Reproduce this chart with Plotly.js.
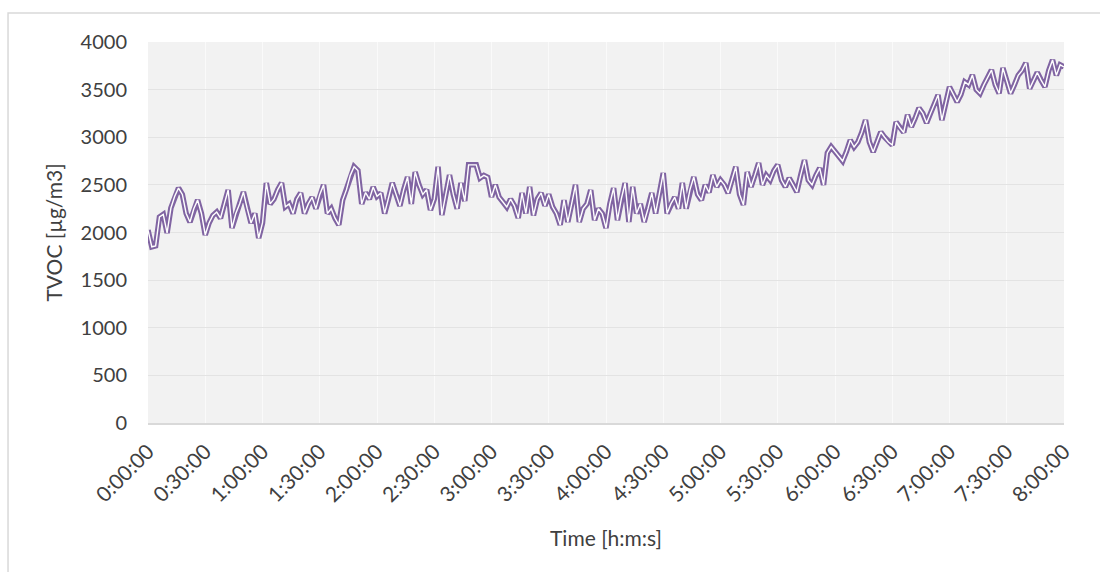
<!DOCTYPE html>
<html>
<head>
<meta charset="utf-8">
<script src="https://cdn.plot.ly/plotly-3.0.1.min.js"></script>
<style>
html,body{margin:0;padding:0;background:#fff;}
#chart{width:1100px;height:572px;}
</style>
</head>
<body>
<div id="chart"></div>
<script>
// Sampling interval of the readings (minutes)
const stepMinutes = 2;
// TVOC readings [µg/m3], one every 2 minutes from 0:00:00 to 8:00:00
const tvoc = [
  2026,1850,1860,2163,2190,1995,2257,2380,2467,2400,
  2200,2110,2250,2341,2200,1974,2100,2180,2215,2150,
  2300,2446,2047,2200,2300,2425,2250,2100,2200,1942,
  2100,2520,2300,2350,2450,2520,2270,2300,2200,2350,
  2415,2200,2300,2370,2250,2400,2500,2200,2250,2150,
  2080,2340,2450,2600,2690,2650,2300,2420,2350,2478,
  2380,2415,2200,2350,2520,2400,2280,2450,2583,2300,
  2635,2500,2400,2450,2236,2350,2690,2184,2400,2604,
  2400,2250,2520,2330,2710,2710,2710,2572,2600,2580,
  2373,2500,2370,2320,2268,2350,2280,2152,2415,2200,
  2478,2180,2350,2415,2280,2400,2270,2200,2080,2340,
  2110,2300,2500,2110,2250,2300,2446,2130,2250,2200,
  2047,2300,2467,2130,2350,2520,2110,2480,2200,2300,
  2110,2250,2415,2200,2400,2625,2200,2300,2370,2250,
  2520,2250,2450,2583,2400,2340,2500,2420,2604,2480,
  2550,2500,2415,2550,2690,2400,2290,2635,2480,2600,
  2730,2500,2600,2550,2650,2710,2550,2480,2570,2500,
  2425,2600,2760,2550,2500,2600,2676,2500,2835,2900,
  2850,2800,2750,2850,2971,2898,2950,3050,3181,2950,
  2845,2950,3055,3000,2950,2919,3160,3100,3050,3234,
  3110,3200,3307,3250,3150,3250,3350,3444,3180,3350,
  3528,3450,3370,3450,3580,3550,3654,3500,3460,3550,
  3630,3706,3550,3460,3727,3600,3460,3550,3650,3700,
  3780,3510,3600,3680,3600,3530,3700,3811,3650,3760,
  3738
];
// Time of each reading in minutes since start
const minutes = tvoc.map((_, i) => i * stepMinutes);
// X-axis tick positions (minutes) and labels
const tickMinutes = [0,30,60,90,120,150,180,210,240,270,300,330,360,390,420,450,480];
const tickLabels = ["0:00:00","0:30:00","1:00:00","1:30:00","2:00:00","2:30:00","3:00:00","3:30:00","4:00:00","4:30:00","5:00:00","5:30:00","6:00:00","6:30:00","7:00:00","7:30:00","8:00:00"];

const purple = '#8064a2';
const fontFam = 'Lato, "Open Sans", sans-serif';
const textColor = '#404040';

const traces = [
  {x: minutes, y: tvoc, type: 'scatter', mode: 'lines',
   line: {color: purple, width: 5.5}, hoverinfo: 'skip', showlegend: false},
  {x: minutes, y: tvoc, type: 'scatter', mode: 'lines',
   line: {color: '#ffffff', width: 1.4}, hoverinfo: 'skip', showlegend: false}
];

const layout = {
  width: 1100, height: 572,
  margin: {l: 148, r: 36, t: 42, b: 149},
  paper_bgcolor: '#ffffff',
  plot_bgcolor: '#f2f2f2',
  font: {family: fontFam, color: textColor, size: 20},
  showlegend: false,
  xaxis: {
    range: [0, 480],
    tickmode: 'array', tickvals: tickMinutes, ticktext: tickLabels,
    tickangle: -45,
    tickfont: {family: fontFam, size: 21, color: textColor},
    ticklabelstandoff: 6,
    showgrid: true, gridcolor: '#fafafa', gridwidth: 1,
    zeroline: false,
    showline: true, linecolor: '#d9d9d9', linewidth: 2,
    ticks: '', ticklen: 0,
    title: {text: 'Time [h:m:s]', font: {family: fontFam, size: 21, color: textColor}, standoff: 26}
  },
  yaxis: {
    range: [0, 4000], dtick: 500, tick0: 0,
    tickfont: {family: fontFam, size: 20, color: textColor},
    ticklabelstandoff: 20,
    showgrid: true, gridcolor: '#e3e3e3', gridwidth: 1,
    zeroline: false, showline: false,
    ticks: '', ticklen: 0,
    title: {text: 'TVOC [µg/m3]', font: {family: fontFam, size: 21, color: textColor}, standoff: 12}
  },
  shapes: [
    {type: 'rect', xref: 'paper', yref: 'paper',
     x0: -0.1528, x1: 1.1, y0: -0.6, y1: 1.0761,
     line: {color: '#d9d9d9', width: 1.5}, fillcolor: 'rgba(0,0,0,0)', layer: 'below'}
  ]
};

Plotly.newPlot('chart', traces, layout, {displayModeBar: false, staticPlot: true});
</script>
</body>
</html>
